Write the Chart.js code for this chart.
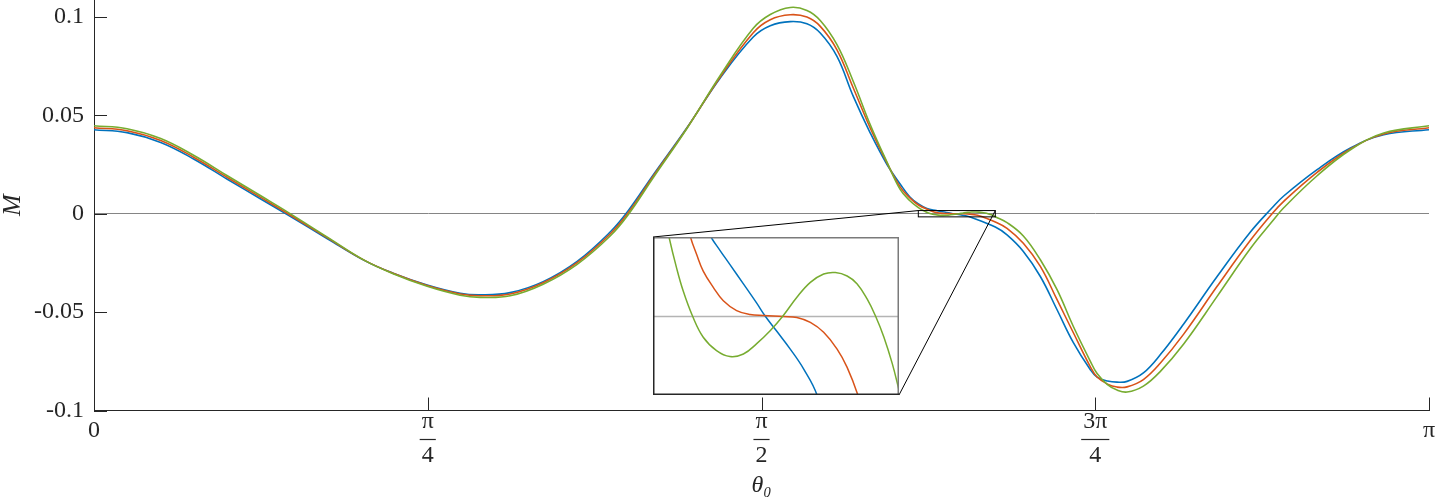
<!DOCTYPE html>
<html lang="en">
<head>
  <meta charset="UTF-8">
  <title>M against theta0</title>
  <script src="https://cdn.jsdelivr.net/npm/chart.js"></script>
  <style>
    body { margin: 0; background: #fff; }
    #wrap { position: relative; width: 1450px; height: 500px; }
    canvas { display: block; }
    #inset { position: absolute; left: 653px; top: 237px; background: #fff; }
  </style>
</head>
<body>
<div id="wrap">
  <canvas id="main" width="1450" height="500"></canvas>
  <canvas id="inset" width="246" height="158"></canvas>
</div>
<script>
// theta0 samples (rad), shared by the three curves outside the zoomed window
const theta = [0, 0.0777, 0.1570, 0.2354, 0.3138, 0.3924, 0.4567, 0.5492, 0.6356, 0.7039,
  0.7839, 0.8616, 0.9087, 0.9793, 1.0570, 1.1370, 1.2147, 1.2571, 1.3159, 1.3953,
  1.4737, 1.5514, 1.5914, 1.6385, 1.6777, 1.7091, 1.7484, 1.7868, 1.8268, 1.8661,
  1.8974, 1.9200, 1.9400,
  2.1210, 2.1486, 2.1870, 2.2270, 2.2663, 2.3047, 2.3447, 2.3605, 2.3850, 2.4075,
  2.4311, 2.4695, 2.5095, 2.5643, 2.6430, 2.7213, 2.7724, 2.7997, 2.8783, 2.9567,
  3.0351, 3.1416];

const mBlue = [0.0427, 0.0412, 0.0362, 0.0277, 0.0175, 0.0075, -0.0007, -0.0127, -0.0237, -0.0302,
  -0.0362, -0.0404, -0.0412, -0.0401, -0.0345, -0.0242, -0.0093, 0.0015, 0.0197, 0.0437,
  0.0690, 0.0898, 0.0955, 0.0976, 0.0965, 0.0918, 0.0799, 0.0596, 0.0410, 0.0250,
  0.0150, 0.0085, 0.0050,
  -0.0068, -0.0108, -0.0192, -0.0319, -0.0488, -0.0655, -0.0793, -0.0830, -0.0850, -0.0856,
  -0.0852, -0.0809, -0.0716, -0.0560, -0.0319, -0.0093, 0.0030, 0.0090, 0.0224, 0.0334,
  0.0401, 0.0427];

const mRed = [0.0437, 0.0422, 0.0372, 0.0286, 0.0184, 0.0083, 0, -0.0123, -0.0236, -0.0303,
  -0.0365, -0.0408, -0.0417, -0.0408, -0.0351, -0.0249, -0.0103, 0.0005, 0.0190, 0.0435,
  0.0695, 0.0920, 0.0986, 0.1011, 0.0999, 0.0952, 0.0833, 0.0639, 0.0435, 0.0258,
  0.0135, 0.0080, 0.0044,
  -0.0042, -0.0074, -0.0150, -0.0268, -0.0437, -0.0605, -0.0778, -0.0830, -0.0866, -0.0881,
  -0.0880, -0.0843, -0.0759, -0.0612, -0.0369, -0.0135, 0, 0.0063, 0.0210, 0.0329,
  0.0405, 0.0437];

const mGreen = [0.0447, 0.0432, 0.0382, 0.0296, 0.0193, 0.0091, 0.0007, -0.0119, -0.0236, -0.0305,
  -0.0369, -0.0414, -0.0425, -0.0417, -0.0358, -0.0257, -0.0113, -0.0005, 0.0183, 0.0433,
  0.0702, 0.0942, 0.1012, 0.1048, 0.1033, 0.0982, 0.0859, 0.0672, 0.0452, 0.0262,
  0.0122, 0.0066, 0.0031,
  -0.0015, -0.0045, -0.0113, -0.0234, -0.0386, -0.0573, -0.0750, -0.0812, -0.0868, -0.0896,
  -0.0906, -0.0876, -0.0801, -0.0662, -0.0420, -0.0177, -0.0040, 0.0030, 0.0193, 0.0325,
  0.0410, 0.0447];

// denser readings inside the zoomed window, taken from the inset
const zoomThetaBlue = [1.9600, 1.9825, 1.9891, 1.9965, 2.0064, 2.0162, 2.0224, 2.0310, 2.0409, 2.0507, 2.0606];
const zoomMBlue = [0.0027, 0.0016, 0.00133, 0.00104, 0.00065, 0.00026, 0, -0.00031, -0.00067, -0.00107, -0.0016];

const zoomThetaRed = [1.9674, 1.9719, 1.9768, 1.9842, 1.9916, 2.0014, 2.0113, 2.0212, 2.0359, 2.0458,
  2.0557, 2.0655, 2.0754, 2.0828, 2.0907];
const zoomMRed = [0.0016, 0.00125, 0.00091, 0.00058, 0.00031, 0.00011, 0.00003, 0.00001, -0.00001, -0.00003,
  -0.00013, -0.00033, -0.00067, -0.00104, -0.0016];

const zoomThetaGreen = [1.9516, 1.9571, 1.9620, 1.9689, 1.9768, 1.9866, 1.9965, 2.0064, 2.0162, 2.0261,
  2.0355, 2.0458, 2.0557, 2.0655, 2.0742, 2.0828, 2.0902, 2.0976, 2.1037, 2.1099, 2.1161];
const zoomMGreen = [0.0016, 0.00098, 0.00051, 0, -0.00043, -0.00070, -0.00082, -0.00077, -0.00056, -0.00030,
  0, 0.00038, 0.00068, 0.00085, 0.00088, 0.00081, 0.00065, 0.00034, 0, -0.00043, -0.00097];

const yTicks = [-0.1, -0.05, 0, 0.05, 0.1];
const yTickLabels = ['-0.1', '-0.05', '0', '0.05', '0.1'];
const xTicks = [0, Math.PI / 4, Math.PI / 2, 3 * Math.PI / 4, Math.PI];
const xTickLabels = ['0', ['π', '4'], ['π', '2'], ['3π', '4'], 'π'];

// window shown magnified in the inset
const zoomX = [1.9398, 2.1210];
const zoomY = [-0.0016, 0.0016];

const INSET = { left: 653, top: 237, width: 246, height: 158 };
const serif = "'Liberation Serif', 'DejaVu Serif', serif";
const ink = '#262626';
const colors = ['#0072BD', '#D95319', '#77AC30'];
const TICK_SIZE = 24;
const TICK_PAD = -5.5;
const FRAC_STEP = 34;   // baseline to baseline in a fraction label
const SINGLE_STEP = 52; // keeps one-line labels level with the reference

function merge(th, m, zth, zm) {
  const pts = th.map((t, i) => ({ x: t, y: m[i] }))
    .concat(zth.map((t, i) => ({ x: t, y: zm[i] })));
  return pts.sort((a, b) => a.x - b.x);
}
const blue = merge(theta, mBlue, zoomThetaBlue, zoomMBlue);
const red = merge(theta, mRed, zoomThetaRed, zoomMRed);
const green = merge(theta, mGreen, zoomThetaGreen, zoomMGreen);

function makeDatasets(width) {
  return [blue, red, green].map((d, i) => ({
    data: d,
    borderColor: colors[i],
    borderWidth: width,
    pointRadius: 0,
    fill: false,
    tension: 0.4,
    order: 3 - i
  }));
}

function line(ctx, x0, y0, x1, y1) {
  ctx.beginPath();
  ctx.moveTo(x0, y0);
  ctx.lineTo(x1, y1);
  ctx.stroke();
}

// inward ticks, fraction bars, zoom box and connector lines
const mainDecor = {
  id: 'mainDecor',
  afterDraw(chart) {
    const { ctx, chartArea: a, scales: { x, y } } = chart;
    ctx.save();
    ctx.strokeStyle = ink;
    ctx.lineWidth = 1;
    xTicks.forEach(v => {
      const px = Math.round(x.getPixelForValue(v)) + 0.5;
      line(ctx, px, a.bottom, px, a.bottom - 13);
    });
    yTicks.forEach(v => {
      const py = Math.round(y.getPixelForValue(v)) + 0.5;
      line(ctx, a.left, py, a.left + 13, py);
    });

    ctx.font = TICK_SIZE + 'px ' + serif;
    ctx.fillStyle = ink;
    xTickLabels.forEach((lab, i) => {
      if (!Array.isArray(lab)) return;
      const w = Math.max(...lab.map(s => ctx.measureText(s).width)) + 4;
      const px = x.getPixelForValue(xTicks[i]);
      const by = a.bottom + TICK_PAD + FRAC_STEP + 0.5;
      ctx.fillRect(px - w / 2, by - 0.6, w, 1.2);
    });

    const bx0 = x.getPixelForValue(zoomX[0]);
    const bx1 = x.getPixelForValue(zoomX[1]);
    const by0 = y.getPixelForValue(zoomY[1]);
    const by1 = y.getPixelForValue(zoomY[0]);
    ctx.strokeStyle = '#000';
    ctx.strokeRect(bx0, by0, bx1 - bx0, by1 - by0);
    line(ctx, bx0, by0, INSET.left, INSET.top);
    line(ctx, bx1, by0, INSET.left + INSET.width, INSET.top + INSET.height);
    ctx.restore();
  }
};

new Chart(document.getElementById('main'), {
  type: 'line',
  data: { datasets: makeDatasets(1.6) },
  options: {
    responsive: false,
    animation: false,
    layout: { padding: { top: 0, right: 21, bottom: 0, left: 0 } },
    plugins: { legend: { display: false }, tooltip: { enabled: false } },
    scales: {
      x: {
        type: 'linear',
        min: 0,
        max: Math.PI,
        afterBuildTicks: s => { s.ticks = xTicks.map(v => ({ value: v })); },
        afterFit: s => { s.height = 89.5; s.paddingLeft = 0; s.paddingRight = 0; },
        grid: { display: true, drawOnChartArea: false, drawTicks: false },
        border: { display: true, color: ink, width: 1 },
        ticks: {
          autoSkip: false,
          maxRotation: 0,
          padding: TICK_PAD,
          color: ink,
          font: c => ({
            family: serif,
            size: TICK_SIZE,
            lineHeight: (Array.isArray(xTickLabels[c.index]) ? FRAC_STEP : SINGLE_STEP) / TICK_SIZE
          }),
          callback: (v, i) => xTickLabels[i]
        },
        title: {
          display: true,
          text: 'θ₀',
          color: ink,
          padding: { top: 0, bottom: 2 },
          font: { family: serif, size: 24, style: 'italic', lineHeight: 1 }
        }
      },
      y: {
        type: 'linear',
        min: -0.1,
        max: 0.1086,
        afterBuildTicks: s => { s.ticks = yTicks.map(v => ({ value: v })); },
        afterFit: s => { s.width = 94; s.paddingTop = 0; s.paddingBottom = 0; },
        grid: {
          drawTicks: false,
          color: c => (c.tick && c.tick.value === 0 ? '#858585' : 'rgba(0,0,0,0)')
        },
        border: { display: true, color: ink, width: 1 },
        ticks: {
          padding: 10,
          color: ink,
          font: { family: serif, size: TICK_SIZE },
          callback: (v, i) => yTickLabels[i]
        },
        title: {
          display: true,
          text: 'M',
          color: ink,
          padding: 0,
          font: { family: serif, size: 26, style: 'italic', lineHeight: 1 }
        }
      }
    }
  },
  plugins: [mainDecor]
});

// zero line and frame of the inset
const insetFrame = {
  id: 'insetFrame',
  beforeDatasetsDraw(chart) {
    const { ctx, chartArea: a, scales: { y } } = chart;
    const py = Math.round(y.getPixelForValue(0)) + 0.5;
    ctx.save();
    ctx.strokeStyle = '#b4b4b4';
    ctx.lineWidth = 1.5;
    line(ctx, a.left, py, a.right, py);
    ctx.restore();
  },
  afterDraw(chart) {
    const { ctx, width: w, height: h } = chart;
    ctx.save();
    ctx.lineWidth = 1.5;
    ctx.strokeStyle = '#7a7a7a';
    line(ctx, 0, 0.75, w, 0.75);
    line(ctx, w - 0.75, 0, w - 0.75, h);
    ctx.strokeStyle = ink;
    line(ctx, 0.75, 0, 0.75, h);
    line(ctx, 0, h - 0.75, w, h - 0.75);
    ctx.restore();
  }
};

new Chart(document.getElementById('inset'), {
  type: 'line',
  data: { datasets: makeDatasets(1.5) },
  options: {
    responsive: false,
    animation: false,
    layout: { padding: 0 },
    plugins: { legend: { display: false }, tooltip: { enabled: false } },
    scales: {
      x: { type: 'linear', display: false, min: zoomX[0], max: zoomX[1] },
      y: { type: 'linear', display: false, min: zoomY[0], max: zoomY[1] }
    }
  },
  plugins: [insetFrame]
});
</script>
</body>
</html>
